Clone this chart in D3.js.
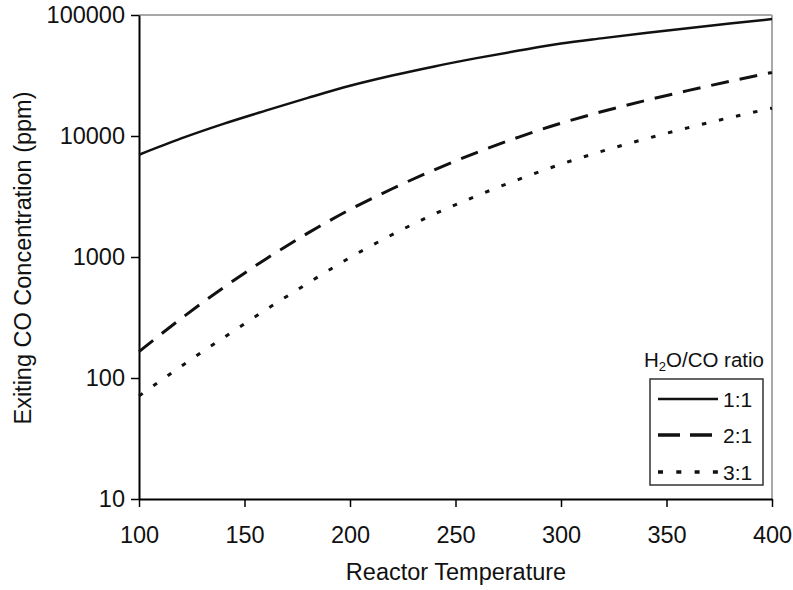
<!DOCTYPE html>
<html>
<head>
<meta charset="utf-8">
<script src="https://cdn.jsdelivr.net/npm/d3@7/dist/d3.min.js"></script>
<style>
  html, body { margin: 0; padding: 0; background: #fff; }
  svg { display: block; font-family: "Liberation Sans", Arial, sans-serif; }
</style>
</head>
<body>
<svg id="chart" width="793" height="590"></svg>
<script>
// ---- data ----
const temperatures = [100, 120, 140, 160, 180, 200, 220, 240, 260, 280, 300, 320, 340, 360, 380, 400];
const ratio1to1 = [7000, 9550, 12600, 16200, 20650, 26000, 31600, 37600, 44000, 50800, 58100, 64400, 71000, 77800, 84900, 92500];
const ratio2to1 = [165, 310, 558, 959, 1574, 2466, 3664, 5260, 7295, 9795, 12760, 16000, 19630, 23710, 28310, 33500];
const ratio3to1 = [71, 125, 215, 365, 607, 989, 1531, 2265, 3199, 4385, 5848, 7534, 9462, 11670, 14190, 16980];
const seriesNames = ["1:1", "2:1", "3:1"];
const yTickValues = [10, 100, 1000, 10000, 100000];
const xTickValues = [100, 150, 200, 250, 300, 350, 400];

const seriesValues = [ratio1to1, ratio2to1, ratio3to1];
const dashes = [null, "18,11", "4.5,13"];
const legendDashes = [null, "22,10", "5,13.3"];

const svg = d3.select("#chart");
const plotLeft = 139, plotRight = 772, plotTop = 15, plotBottom = 499;
const FS = 23.5;

const x = d3.scaleLinear().domain([100, 400]).range([plotLeft, plotRight]);
const y = d3.scaleLog().domain([10, 100000]).range([plotBottom, plotTop]);

// frame: top and right borders in grey
svg.append("line").attr("x1", plotLeft).attr("x2", plotRight).attr("y1", plotTop).attr("y2", plotTop)
  .attr("stroke", "#a8a8a8").attr("stroke-width", 2);
svg.append("line").attr("x1", plotRight).attr("x2", plotRight).attr("y1", plotTop).attr("y2", plotBottom)
  .attr("stroke", "#a8a8a8").attr("stroke-width", 2);

// axes
const xAxis = d3.axisBottom(x).tickValues(xTickValues).tickSize(8).tickSizeOuter(0).tickPadding(19)
  .tickFormat(d3.format("d"));
const gx = svg.append("g").attr("transform", `translate(0,${plotBottom})`).call(xAxis);
gx.select(".domain").attr("stroke", "#000").attr("stroke-width", 2);
gx.selectAll(".tick line").attr("stroke", "#000").attr("stroke-width", 1.5);
gx.selectAll(".tick text").attr("font-size", FS).attr("fill", "#111")
  .attr("font-family", "Liberation Sans, Arial, sans-serif");

const yAxis = d3.axisLeft(y).tickValues(yTickValues).tickSize(8).tickSizeOuter(0).tickPadding(6)
  .tickFormat(d3.format("d"));
const gy = svg.append("g").attr("transform", `translate(${plotLeft},0)`).call(yAxis);
gy.select(".domain").attr("stroke", "#000").attr("stroke-width", 2);
gy.selectAll(".tick line").attr("stroke", "#000").attr("stroke-width", 1.5);
gy.selectAll(".tick text").attr("font-size", FS).attr("fill", "#111")
  .attr("font-family", "Liberation Sans, Arial, sans-serif");

// axis titles
svg.append("text").attr("x", 456).attr("y", 580).attr("text-anchor", "middle")
  .attr("font-size", FS).attr("fill", "#111").text("Reactor Temperature");
svg.append("text").attr("transform", "translate(31,258) rotate(-90)").attr("text-anchor", "middle")
  .attr("font-size", FS).attr("fill", "#111").text("Exiting CO Concentration (ppm)");

// lines
const line = d3.line().x(d => x(d[0])).y(d => y(d[1])).curve(d3.curveMonotoneX);
seriesValues.forEach((vals, i) => {
  const pts = temperatures.map((t, j) => [t, vals[j]]);
  const p = svg.append("path").datum(pts).attr("d", line)
    .attr("fill", "none").attr("stroke", "#111").attr("stroke-width", i === 0 ? 2.5 : 3);
  if (dashes[i]) p.attr("stroke-dasharray", dashes[i]);
});

// legend
const legend = svg.append("g");
const title = legend.append("text").attr("x", 704).attr("y", 367).attr("text-anchor", "middle")
  .attr("font-size", 20.5).attr("fill", "#111");
title.append("tspan").text("H");
title.append("tspan").attr("font-size", 13).attr("dy", 4).text("2");
title.append("tspan").attr("dy", -4).text("O/CO ratio");
legend.append("rect").attr("x", 650).attr("y", 379).attr("width", 113).attr("height", 106)
  .attr("fill", "#fff").attr("stroke", "#333").attr("stroke-width", 1.5);
const legendY = [399, 435, 472];
seriesNames.forEach((name, i) => {
  const l = legend.append("line").attr("x1", 658).attr("x2", 718).attr("y1", legendY[i]).attr("y2", legendY[i])
    .attr("stroke", "#111").attr("stroke-width", i === 0 ? 2.5 : 3.5);
  if (legendDashes[i]) l.attr("stroke-dasharray", legendDashes[i]);
  legend.append("text").attr("x", 723).attr("y", legendY[i] + 8).attr("font-size", 21)
    .attr("fill", "#111").text(name);
});
</script>
</body>
</html>
